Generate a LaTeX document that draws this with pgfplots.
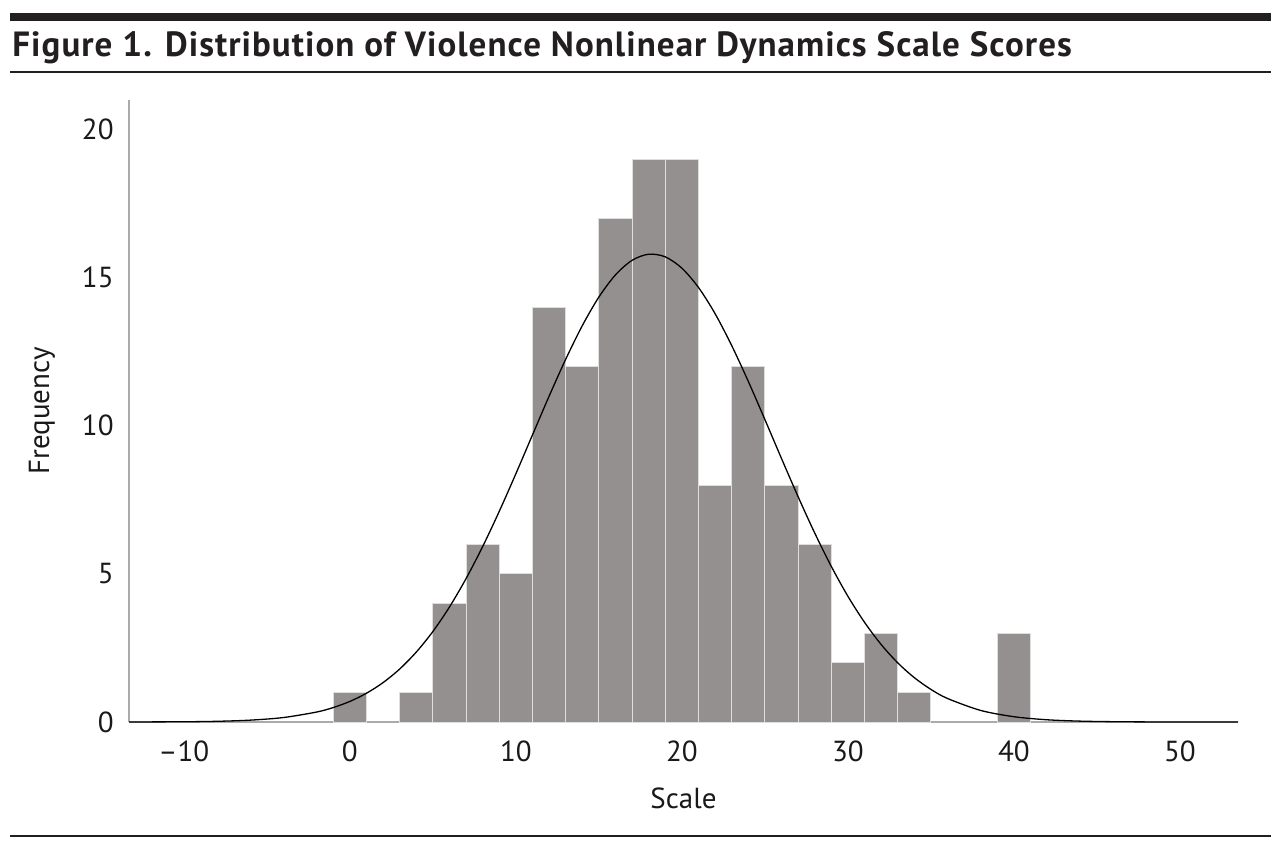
\documentclass[border=0pt]{standalone}
\usepackage{fontspec}
\setmainfont{PT Sans}
\usepackage{pgfplots}
\pgfplotsset{compat=1.18}
\definecolor{barfill}{RGB}{149,144,144}
\definecolor{baredge}{RGB}{222,222,222}
\definecolor{axgray}{RGB}{170,170,170}
\definecolor{rulecol}{RGB}{35,31,32}
\begin{document}
\begin{tikzpicture}
\path[use as bounding box] (0pt,0pt) rectangle (640.5pt,-424pt);
\draw[rulecol, line width=4pt] (5pt,-8.35pt) -- (635.5pt,-8.35pt);
\node[anchor=base west, inner sep=0pt, text=rulecol] at (6pt,-28pt) {\fontsize{17.5}{19}\selectfont\bfseries\addfontfeature{LetterSpace=3}Figure 1. Distribution of Violence Nonlinear Dynamics Scale Scores};
\draw[rulecol, line width=1pt] (5pt,-36pt) -- (635.5pt,-36pt);
\draw[rulecol, line width=1pt] (5pt,-418pt) -- (635.5pt,-418pt);
\begin{axis}[
  at={(64.5pt,-361pt)}, anchor=south west,
  scale only axis, width=554.5pt, height=311pt,
  xmin=-13.3, xmax=53.5, ymin=0, ymax=21,
  axis x line*=bottom, axis y line*=left,
  axis line style={-, axgray, line width=0.85pt},
  major tick length=0pt, tick style={draw=none},
  xtick={-10,0,10,20,30,40,50},
  xticklabels={–10,0,10,20,30,40,50},
  ytick={0,5,10,15,20},
  yticklabels={0,5,10,15,20},
  ticklabel style={font=\fontsize{14.5}{16}\selectfont, text=black!90},
  xticklabel style={anchor=north, inner sep=0pt, yshift=-9pt},
  yticklabel style={anchor=east, inner sep=0pt, xshift=-7.5pt},
  xlabel={Scale}, ylabel={Frequency},
  label style={font=\fontsize{14.5}{16}\selectfont, text=black!90},
  xlabel style={at={(axis description cs:0.5,-0.1222)}, anchor=center},
  ylabel style={at={(axis description cs:-0.0784,0.5)}, anchor=center},
  clip=false,
]
\addplot[ybar, bar width=2, fill=barfill, draw=baredge, line width=0.5pt] coordinates {
(0,1) (4,1) (6,4) (8,6) (10,5) (12,14) (14,12) (16,17) (18,19) (20,19)
(22,8) (24,12) (26,8) (28,6) (30,2) (32,3) (34,1) (40,3)
};
\addplot[black, line width=0.65pt, smooth, no marks] coordinates {
(-13.3,0.0014) (-10,0.0087) (-8,0.024) (-6,0.063) (-4,0.151) (-2,0.337) (-1,0.488)
(0,0.694) (1,0.970) (2,1.329) (3,1.787) (4,2.359) (5,3.053) (6,3.880) (7,4.840)
(8,5.920) (9,7.110) (10,8.379) (11,9.689) (12,10.995) (13,12.242) (14,13.378)
(15,14.345) (16,15.095) (17,15.587) (18,15.794) (19,15.705) (20,15.324) (21,14.673)
(22,13.789) (23,12.713) (24,11.504) (25,10.215) (26,8.900) (27,7.611) (28,6.385)
(29,5.257) (30,4.247) (31,3.369) (32,2.620) (33,2.000) (34,1.499) (35,1.102)
(36,0.795) (38,0.391) (40,0.179) (42,0.0755) (44,0.0296) (46,0.0108) (48,0.0036)
(50,0.0011) (53.5,0.0001)
};
\end{axis}
\end{tikzpicture}
\end{document}
